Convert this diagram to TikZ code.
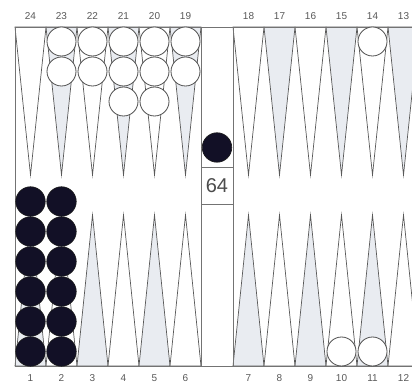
\documentclass[tikz,border=0pt]{standalone}
\usepackage{fontspec}
\setmainfont{Liberation Sans}
\begin{document}
\begin{tikzpicture}[x=1pt,y=-1pt,
  pointline/.style={draw=black!65,line width=0.7pt},
  oddfill/.style={fill={rgb,255:red,233;green,236;blue,241}},
  evenfill/.style={fill=white},
  boardline/.style={draw=black!55,line width=0.7pt},
  whitechk/.style={circle,draw=black!70,line width=0.8pt,fill=white,minimum size=29pt,inner sep=0pt},
  blackchk/.style={circle,draw=black!90,line width=0.6pt,fill={rgb,255:red,18;green,16;blue,38},minimum size=29.5pt,inner sep=0pt},
  numlabel/.style={font=\fontsize{10}{10}\selectfont,text=black!65,inner sep=0pt},
  cubebox/.style={draw=black!55,line width=0.7pt,minimum width=32pt,minimum height=37pt,inner sep=0pt,font=\fontsize{20}{20}\selectfont,text=black!70}]
\useasboundingbox (0,0) rectangle (412,387);
\fill[white] (0,0) rectangle (412,387);
\begin{scope}
\clip (0,0) rectangle (412,387);
% bottom left points 1..6
\foreach \p in {1,...,6}{
  \pgfmathsetmacro{\c}{15+31*(\p-0.5)}
  \pgfmathtruncatemacro{\odd}{mod(\p,2)}
  \ifnum\odd=1 \def\fs{oddfill}\else\def\fs{evenfill}\fi
  \path[pointline,\fs] (\c-15.5,366) -- (\c,215) -- (\c+15.5,366) -- cycle;
  \node[numlabel] (lab\p) at (\c,378) {\p};
}
% bottom right points 7..12
\foreach \p in {7,...,12}{
  \pgfmathsetmacro{\c}{233+31*(\p-6.5)}
  \pgfmathtruncatemacro{\odd}{mod(\p,2)}
  \ifnum\odd=1 \def\fs{oddfill}\else\def\fs{evenfill}\fi
  \path[pointline,\fs] (\c-15.5,366) -- (\c,215) -- (\c+15.5,366) -- cycle;
  \node[numlabel] (lab\p) at (\c,378) {\p};
}
% top right points 13..18
\foreach \p in {13,...,18}{
  \pgfmathsetmacro{\c}{233+31*(18-\p+0.5)}
  \pgfmathtruncatemacro{\odd}{mod(\p,2)}
  \ifnum\odd=1 \def\fs{oddfill}\else\def\fs{evenfill}\fi
  \path[pointline,\fs] (\c-15.5,27) -- (\c,175) -- (\c+15.5,27) -- cycle;
  \node[numlabel] (lab\p) at (\c,16) {\p};
}
% top left points 19..24
\foreach \p in {19,...,24}{
  \pgfmathsetmacro{\c}{15+31*(24-\p+0.5)}
  \pgfmathtruncatemacro{\odd}{mod(\p,2)}
  \ifnum\odd=1 \def\fs{oddfill}\else\def\fs{evenfill}\fi
  \path[pointline,\fs] (\c-15.5,27) -- (\c,175) -- (\c+15.5,27) -- cycle;
  \node[numlabel] (lab\p) at (\c,16) {\p};
}
% board frame and bar
\draw[boardline] (15,27) -- (420,27);
\draw[boardline] (15,366) -- (420,366);
\draw[boardline] (15,27) -- (15,366);
\draw[boardline] (201,27) -- (201,366);
\draw[boardline] (233,27) -- (233,366);
% white checkers on top points
\foreach \nm/\c/\n in {w23/61.5/2, w22/92.5/2, w21/123.5/3, w20/154.5/3, w19/185.5/2, w14/372.5/1}{
  \foreach \k in {1,...,\n}{
    \node[whitechk] (\nm-\k) at (\c,{41.5+30*(\k-1)}) {};
  }
}
% white checkers on bottom points
\node[whitechk] (w10-1) at (341.5,351.5) {};
\node[whitechk] (w11-1) at (372.5,351.5) {};
% black checkers on points 1 and 2
\foreach \nm/\c in {b1/30.5, b2/61.5}{
  \foreach \k in {1,...,6}{
    \node[blackchk] (\nm-\k) at (\c,{351.5-30*(\k-1)}) {};
  }
}
% black checker on bar
\node[blackchk] (bbar) at (217,147.5) {};
% doubling cube
\node[cubebox] (cube) at (217,185.5) {64};
\end{scope}
\end{tikzpicture}
\end{document}
